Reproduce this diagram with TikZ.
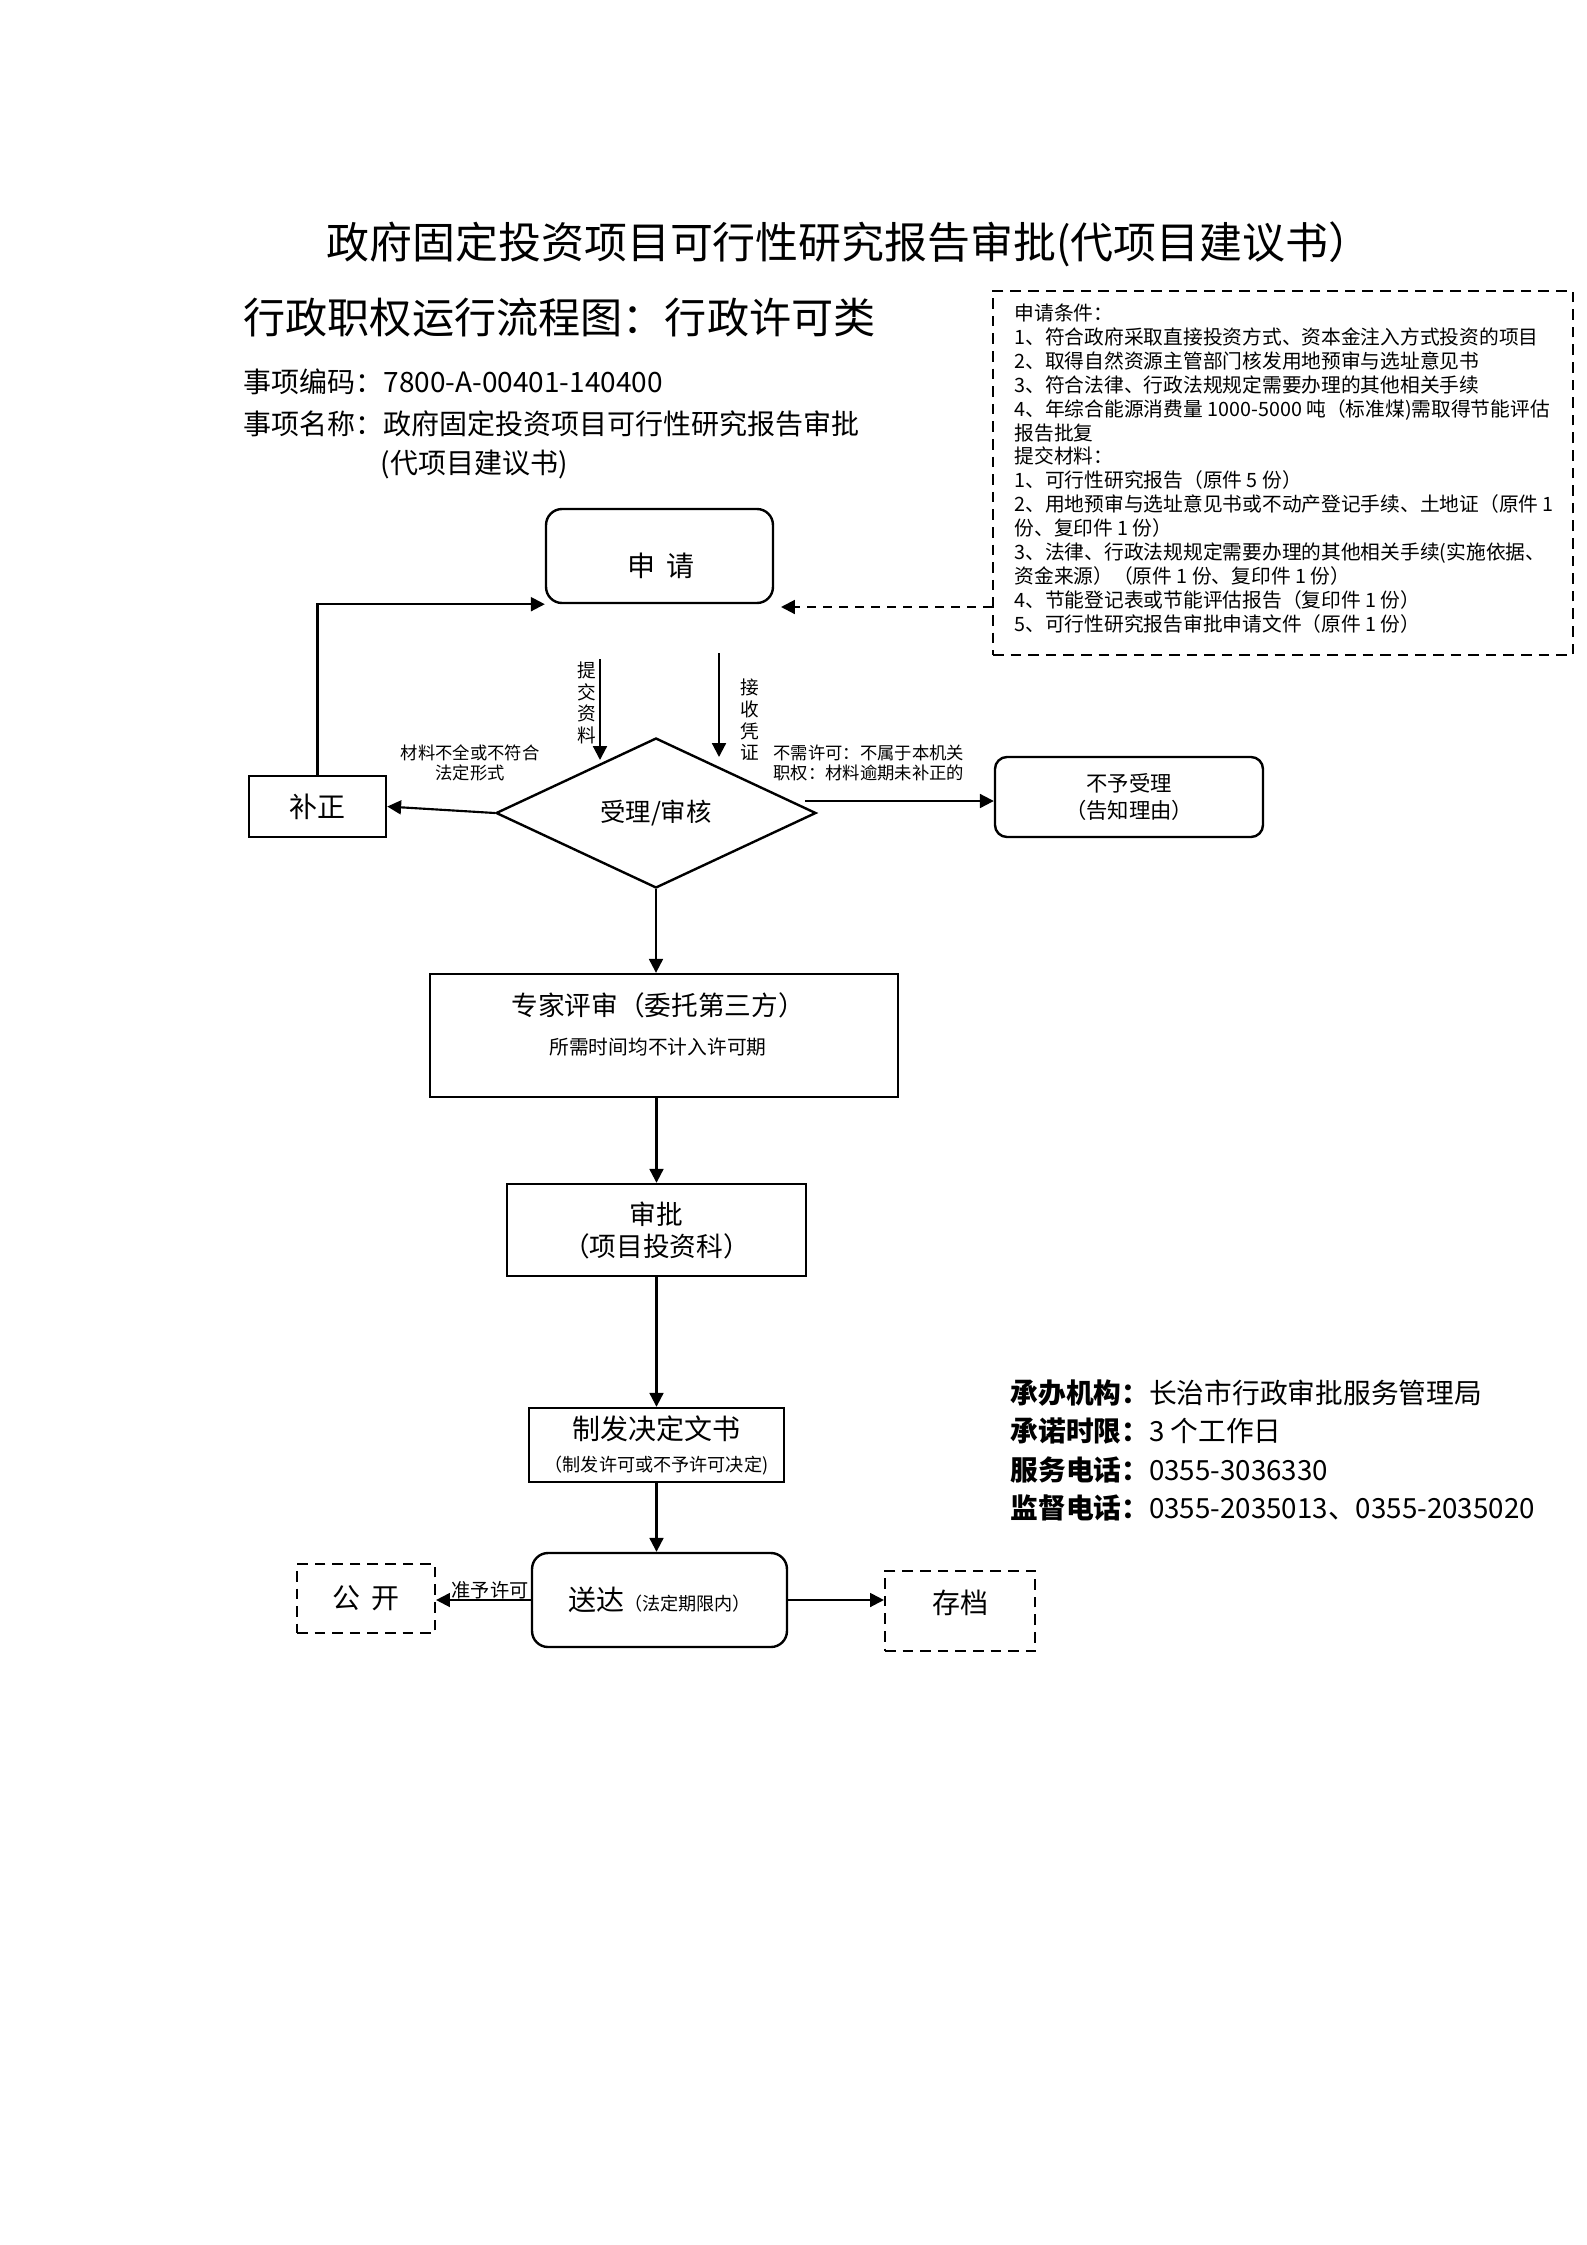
\documentclass[tikz,border=0pt]{standalone}
\usepackage{fontspec}
\setmainfont{Noto Sans CJK SC}
\usetikzlibrary{arrows.meta,shapes.geometric}
\newcommand\myfs[2]{\fontsize{#1}{#2}\selectfont}
\begin{document}
\begin{tikzpicture}[x=0.375pt,y=-0.375pt,
  box/.style={draw, line width=0.9pt, inner sep=0pt, align=center},
  rbox/.style={box, rounded corners=6pt},
  dbox/.style={box, line width=0.8pt, dash pattern=on 4pt off 2.6pt},
  arr/.style={line width=0.8pt, -{Triangle[length=5.2pt,width=5.2pt]}},
  darr/.style={arr, dash pattern=on 3.5pt off 2.5pt},
  txt/.style={inner sep=0pt, align=center},
]
\useasboundingbox (0,0) rectangle (1587,2245);
\fill[white] (0,0) rectangle (1587,2245);

% header texts
\node[txt, font=\myfs{16.1}{18}] (title) at (849,244) {政府固定投资项目可行性研究报告审批(代项目建议书）};
\node[txt, anchor=west, font=\myfs{15.8}{18}] (sub) at (243,318) {行政职权运行流程图：行政许可类};
\node[txt, anchor=west, font=\myfs{10.5}{12}] (code) at (243,382) {事项编码：7800-A-00401-140400};
\node[txt, anchor=west, font=\myfs{10.5}{12}] (nm1) at (243,424) {事项名称：政府固定投资项目可行性研究报告审批};
\node[txt, anchor=west, font=\myfs{10.5}{12}] (nm2) at (380,464) {(代项目建议书)};

% info box
\node[dbox, minimum width=217.5pt, minimum height=136.5pt] (info) at (1283,473) {};
\node[txt, align=left, anchor=west, font=\myfs{7.4}{8.96}] (infotxt) at (1014,468.5) {申请条件：\\
1、符合政府采取直接投资方式、资本金注入方式投资的项目\\
2、取得自然资源主管部门核发用地预审与选址意见书\\
3、符合法律、行政法规规定需要办理的其他相关手续\\
4、年综合能源消费量 1000-5000 吨（标准煤)需取得节能评估\\
报告批复\\
提交材料：\\
1、可行性研究报告（原件 5 份）\\
2、用地预审与选址意见书或不动产登记手续、土地证（原件 1\\
份、复印件 1 份）\\
3、法律、行政法规规定需要办理的其他相关手续(实施依据、\\
资金来源）（原件 1 份、复印件 1 份）\\
4、节能登记表或节能评估报告（复印件 1 份）\\
5、可行性研究报告审批申请文件（原件 1 份）};

% flow nodes
\node[rbox, minimum width=85.1pt, minimum height=35.25pt] (sq) at (659.5,556) {};
\node[txt, font=\myfs{10.5}{12}] (sqt) at (661,566) {申\hspace{0.4em}请};
\node[box, minimum width=51.4pt, minimum height=22.9pt, font=\myfs{10.5}{12}] (bz) at (317.5,806.5) {补正};
\node[draw, diamond, line width=0.9pt, inner sep=0pt, shape aspect=2.13, minimum width=120pt, minimum height=56.25pt, font=\myfs{9.5}{11}] (dia) at (656,813) {受理/审核};
\node[rbox, rounded corners=4.5pt, minimum width=100.5pt, minimum height=30pt, font=\myfs{8}{9.8}] (nr) at (1129,797) {不予受理\\（告知理由）};
\node[box, minimum width=175.5pt, minimum height=46.1pt] (zj) at (664,1035.5) {};
\node[txt, font=\myfs{10}{12}] (zj1) at (658,1005) {专家评审（委托第三方）};
\node[txt, font=\myfs{7.4}{9}] (zj2) at (658,1047) {所需时间均不计入许可期};
\node[box, minimum width=112.1pt, minimum height=34.5pt, font=\myfs{10}{12}] (sp) at (656.5,1230) {审批\\（项目投资科）};
\node[box, minimum width=95.6pt, minimum height=27.75pt] (zf) at (656.5,1445) {\myfs{10.5}{11.25}制发决定文书\\\myfs{6.8}{8}（制发许可或不予许可决定)};
\node[rbox, minimum width=95.6pt, minimum height=35.25pt] (sd) at (659.5,1600) {\myfs{10.5}{12}送达\myfs{6.8}{8}（法定期限内）};
\node[dbox, minimum width=51.75pt, minimum height=25.9pt, font=\myfs{10.5}{12}] (gk) at (366,1598.5) {公\hspace{0.4em}开};
\node[dbox, minimum width=56.25pt, minimum height=30pt] (cd) at (960,1611) {};
\node[txt, font=\myfs{10.5}{12}] (cdt) at (960,1603) {存档};

% labels
\node[txt, font=\myfs{7}{8.1}] (l1) at (587,703) {提\\交\\资\\料};
\node[txt, font=\myfs{7}{8.1}] (l2) at (750,720) {接\\收\\凭\\证};
\node[txt, font=\myfs{6.5}{7.4}] (l3) at (470,763) {材料不全或不符合\\法定形式};
\node[txt, align=left, anchor=west, font=\myfs{6.5}{7.4}] (l4) at (773,763) {不需许可：不属于本机关\\职权：材料逾期未补正的};
\node[txt, font=\myfs{7.2}{8}] (l5) at (490,1590) {准予许可};

% bottom right info
\node[txt, align=left, anchor=west, font=\myfs{10.4}{14.4}] (org) at (1010,1450.5) {\textbf{承办机构：}长治市行政审批服务管理局\\
\textbf{承诺时限：}3 个工作日\\
\textbf{服务电话：}0355-3036330\\
\textbf{监督电话：}0355-2035013、0355-2035020};

% coordinates
\coordinate (dE) at (781,607);
\coordinate (tjS) at (600,659);
\coordinate (tjE) at (600,760);
\coordinate (jsS) at (719,653);
\coordinate (jsE) at (719,757);
\coordinate (rS) at (805,801);

% connectors
\draw[arr] (bz.north) |- (sq.south west);
\draw[darr] (info.west |- dE) -- (dE);
\draw[arr] (tjS) -- (tjE);
\draw[arr] (jsS) -- (jsE);
\draw[arr] (dia.west) -- (bz.east);
\draw[arr] (rS) -- (nr.west |- rS);
\draw[arr] (dia.south) -- (zj.north -| dia.south);
\draw[arr] (zj.south -| sp.north) -- (sp.north);
\draw[arr] (sp.south) -- (zf.north);
\draw[arr] (zf.south) -- (sd.north -| zf.south);
\draw[arr] (sd.west) -- (gk.east |- sd.west);
\draw[arr] (sd.east) -- (cd.west |- sd.east);
\end{tikzpicture}
\end{document}
